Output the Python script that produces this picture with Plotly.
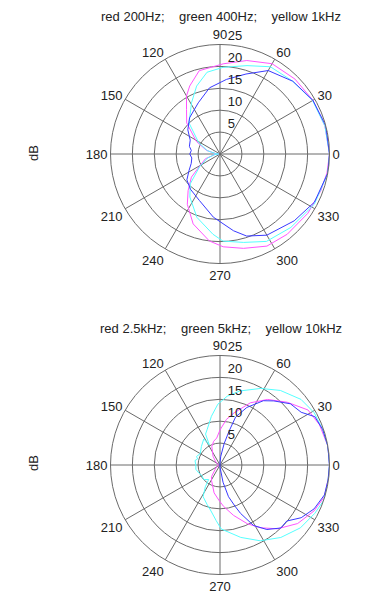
import plotly.graph_objects as go

# ---------------- data (angles in degrees, levels in dB) ----------------
# upper plot: 200 Hz / 400 Hz / 1 kHz
top_a_theta = [0, 15, 30, 45, 60, 74, 88, 104, 114, 120, 127, 137, 152, 165, 175, 180, 186, 198, 213, 219, 229, 237, 249, 263, 272, 284, 297, 310, 326, 340, 350, 360]
top_a_r     = [25, 24.8, 24.5, 24.2, 23.8, 22.2, 20.6, 19.6, 17, 15.3, 12.7, 10.4, 6.1, 3.2, 1, 0.3, 1.2, 3.5, 6, 8.4, 11.1, 13.7, 17.1, 20, 21.2, 22.2, 23.6, 23.9, 24.2, 24.5, 24.8, 25]

top_b_theta = [0, 15, 30, 45, 60, 73, 88, 99, 109, 119, 135, 152, 165, 175, 180, 186, 198, 212, 225, 235, 250, 265, 272, 285, 298, 314, 332, 350, 360]
top_b_r     = [25, 24.8, 24.4, 23.5, 23, 21.1, 19.8, 18.9, 16.4, 13.4, 10, 5.5, 3, 1, 0.3, 1.2, 3, 5.5, 9.6, 12, 15.4, 18.4, 19.9, 20.9, 22.6, 23.3, 24.4, 25, 25]

top_c_theta = [0, 15, 30, 45, 60, 72, 85, 99, 113, 130, 143, 155, 166, 173, 180, 188, 198, 208, 218, 230, 246, 264, 280, 288, 300, 318, 333, 350, 360]
top_c_r     = [25, 25, 24.5, 23.5, 22, 19.2, 17.1, 15.3, 12.7, 10.8, 9.2, 7.5, 7.2, 6.6, 6.9, 6.5, 6.9, 8, 9.6, 10.5, 11.6, 14.5, 17.8, 19.7, 21.4, 22.8, 24.2, 25, 25]

# lower plot: 2.5 kHz / 5 kHz / 10 kHz
bot_a_theta = [0, 10, 22, 32, 43, 54, 64, 75, 82, 90, 97, 105, 114, 129, 150, 180, 210, 234, 241, 258, 268, 275, 285, 295, 303, 312, 323, 334, 343, 354, 360]
bot_a_r     = [25, 25, 24.5, 23.7, 21, 18.5, 15.8, 12.3, 10.5, 8, 6.2, 5.6, 4.6, 2.5, 1, 0.3, 1, 3.3, 4, 6.5, 8, 9.5, 11.9, 14.8, 17.1, 19.6, 22.2, 23.9, 24.9, 25, 25]

bot_b_theta = [0, 10, 19, 29, 39, 51, 62, 75, 84, 92, 100, 110, 115, 118, 122, 135, 150, 160, 165, 170, 180, 190, 200, 210, 222, 232, 236, 242, 252, 258, 266, 271, 286, 298, 310, 322, 333, 341, 350, 360]
bot_b_r     = [25, 25, 24.8, 24.6, 23.8, 21.9, 19.8, 17.5, 15.8, 13.9, 11.3, 8.6, 7.8, 5.2, 7, 6, 5.2, 5.7, 5.3, 5.8, 5.5, 5.6, 5.2, 4.8, 5, 4.2, 6, 8.2, 9.5, 10.5, 12.7, 14.6, 17.2, 19.6, 21.6, 23.3, 24.3, 25, 25, 25]

bot_c_theta = [0, 10, 19, 27, 33, 41, 50, 56, 65, 72, 75, 79, 85, 90, 120, 180, 240, 270, 280, 285, 290, 293, 299, 306, 314, 320, 327, 335, 344, 352, 360]
bot_c_r     = [25, 25, 24.8, 24.3, 22.1, 21.3, 19.1, 17.7, 14.5, 11.5, 8, 5, 2, 0.5, 0, 0, 0, 0.5, 4, 7.5, 10, 12, 15.8, 18.2, 20, 19.9, 22.1, 23.7, 24.8, 24.9, 25]

angle_ticks = [0, 30, 60, 90, 120, 150, 180, 210, 240, 270, 300, 330]
angle_labels = [str(a) for a in angle_ticks]
radial_ticks = [5, 10, 15, 20, 25]
radial_labels = [str(v) for v in radial_ticks]
r_max = 25

top_title = "red 200Hz;\u00a0\u00a0\u00a0\u00a0green 400Hz;\u00a0\u00a0\u00a0\u00a0yellow 1kHz"
bot_title = "red 2.5kHz;\u00a0\u00a0\u00a0\u00a0green 5kHz;\u00a0\u00a0\u00a0\u00a0yellow 10kHz"
y_label = "dB"

# ---------------- styling ----------------
OFF = 8                      # page body margin of the browser
W, H = 385 - OFF, 611 - OFF
FONT = "Liberation Sans, Arial, sans-serif"
FS = 13
TXT = "#222222"
GRID = "#6a6a6a"
C_MAG = "#ff55ff"
C_CYN = "#55ffff"
C_BLU = "#3a3aff"

R = 109.5                    # plot radius in px

def px(x, y):
    return (x - OFF) / W, 1 - (y - OFF) / H

def dom(cx, cy):
    x0, y1 = px(cx - R, cy - R)
    x1, y0 = px(cx + R, cy + R)
    return dict(x=[x0, x1], y=[y0, y1])

# leading spaces push each radial label off the 90° spoke; an empty second
# line lifts it half a line above its ring (MATLAB look)
radial_ticktext = ["\u00a0\u00a0" + t + "<br>\u00a0" for t in radial_labels]

def polar_layout(cx, cy):
    return dict(
        domain=dom(cx, cy),
        bgcolor="white",
        radialaxis=dict(range=[0, r_max], tickmode="array", tickvals=radial_ticks,
                        ticktext=radial_ticktext, showline=False, ticks="",
                        angle=90, side="clockwise", tickangle=90,
                        gridcolor=GRID, gridwidth=1,
                        tickfont=dict(family=FONT, size=FS, color=TXT)),
        angularaxis=dict(tickmode="array", tickvals=angle_ticks, ticktext=angle_labels,
                         rotation=0, direction="counterclockwise", ticks="",
                         showline=True, linecolor=GRID, linewidth=1,
                         gridcolor=GRID, gridwidth=1,
                         tickfont=dict(family=FONT, size=FS, color=TXT)),
    )

fig = go.Figure()
series = [
    ("polar", top_a_theta, top_a_r, C_MAG, "200Hz"),
    ("polar", top_b_theta, top_b_r, C_CYN, "400Hz"),
    ("polar", top_c_theta, top_c_r, C_BLU, "1kHz"),
    ("polar2", bot_a_theta, bot_a_r, C_MAG, "2.5kHz"),
    ("polar2", bot_b_theta, bot_b_r, C_CYN, "5kHz"),
    ("polar2", bot_c_theta, bot_c_r, C_BLU, "10kHz"),
]
for sp, th, r, col, name in series:
    fig.add_trace(go.Scatterpolar(theta=th, r=r, mode="lines", name=name,
                                  line=dict(color=col, width=1), subplot=sp))

ax_t, ay_t = px(221, 16.5)
ax_b, ay_b = px(221, 328)
dx_t, dy_t = px(33, 153)
dx_b, dy_b = px(33, 463)
fig.update_layout(
    width=W, height=H, margin=dict(l=0, r=0, t=0, b=0),
    paper_bgcolor="white", showlegend=False,
    font=dict(family=FONT, size=FS, color=TXT),
    polar=polar_layout(220, 154),
    polar2=polar_layout(220, 465),
    annotations=[
        dict(text=top_title, x=ax_t, y=ay_t, xref="paper", yref="paper",
             showarrow=False, xanchor="center", yanchor="middle"),
        dict(text=bot_title, x=ax_b, y=ay_b, xref="paper", yref="paper",
             showarrow=False, xanchor="center", yanchor="middle"),
        dict(text=y_label, x=dx_t, y=dy_t, xref="paper", yref="paper",
             showarrow=False, textangle=-90, xanchor="center", yanchor="middle"),
        dict(text=y_label, x=dx_b, y=dy_b, xref="paper", yref="paper",
             showarrow=False, textangle=-90, xanchor="center", yanchor="middle"),
    ],
)

fig.write_html("out.html")
